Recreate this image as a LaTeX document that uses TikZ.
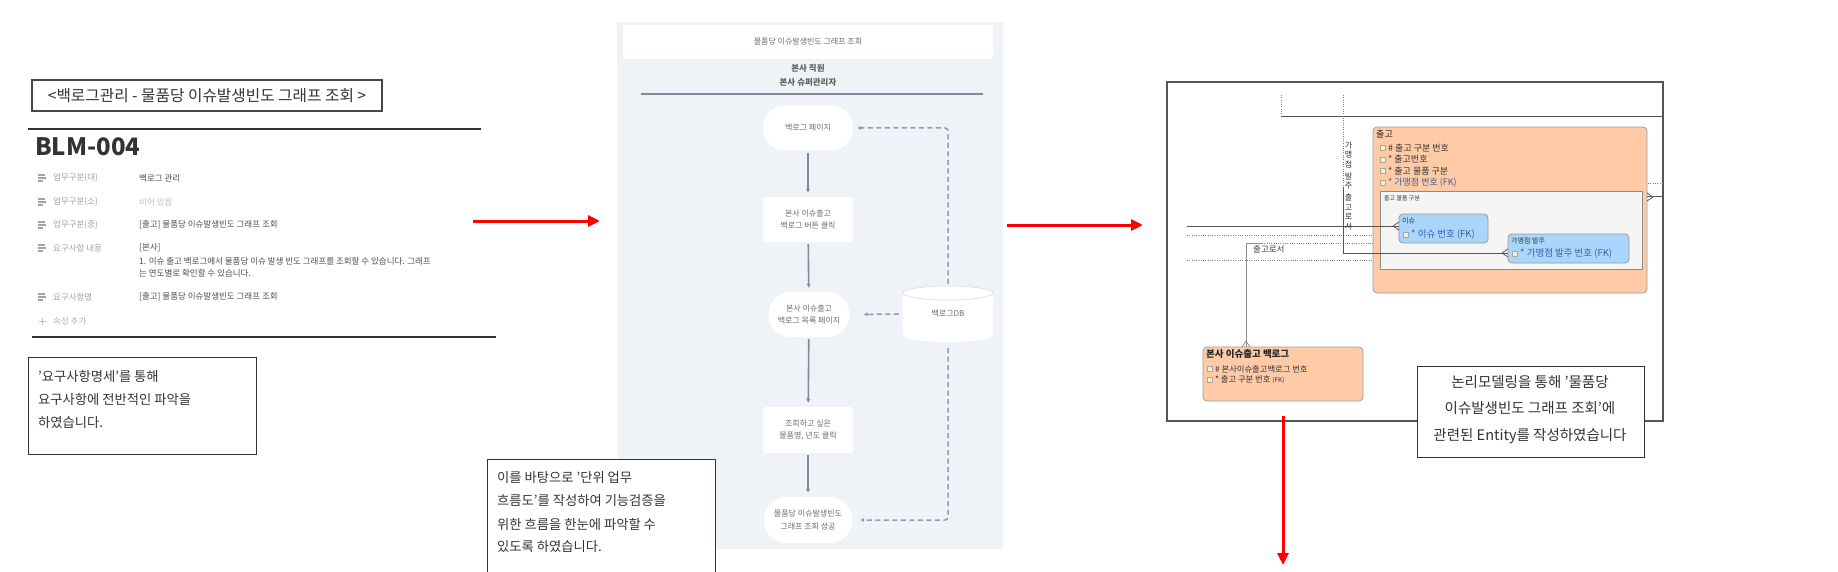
\documentclass[tikz,border=0pt]{standalone}
\usepackage{fontspec}
\setmainfont{Noto Sans CJK KR}
\usetikzlibrary{arrows.meta}
\newcommand\setfs[2]{\fontsize{#1pt}{#2pt}\selectfont}
\definecolor{flbg}{HTML}{EFF2F6}
\definecolor{fltext}{HTML}{6E6E6E}
\definecolor{flline}{HTML}{7D8C9C}
\definecolor{entor}{HTML}{FFCBA6}
\definecolor{entbl}{HTML}{A9D6FA}
\definecolor{fkblue}{HTML}{3C5DA8}
\definecolor{proplab}{HTML}{A3A3A3}
\definecolor{propval}{HTML}{4F4F4F}
\definecolor{darktx}{HTML}{333333}
\definecolor{erdline}{HTML}{555555}
\definecolor{attrsq}{HTML}{F2F2CC}
\tikzset{
  lbl/.style={anchor=west, inner sep=0pt},
  flowtxt/.style={font=\setfs{8}{12.5}, text=fltext, align=center, inner sep=0pt},
  stadium/.style={flowtxt, fill=white, rounded corners=22pt, minimum width=90pt, minimum height=45pt},
  flowrect/.style={flowtxt, fill=white, rounded corners=2pt, minimum width=90pt, minimum height=45pt},
  flowarrow/.style={draw=flline, line width=1.6pt, -{Latex[length=4pt,width=4.5pt]}, shorten <=2pt, shorten >=4pt},
  dasharrow/.style={draw=flline!85, line width=1.5pt, dash pattern=on 5pt off 3.5pt, -{Latex[length=4pt,width=4.5pt]}, rounded corners=3pt},
  redarrow/.style={draw=red, line width=3pt, -{Triangle[length=12pt,width=11pt]}},
  textbox/.style={draw=darktx, line width=1pt, fill=white},
  boxtxt/.style={lbl, font=\setfs{13.3}{16}, text=darktx},
  entity/.style={fill=entor, draw=black!38, line width=0.8pt, rounded corners=4pt},
  subent/.style={fill=entbl, draw=black!40, line width=0.8pt, rounded corners=4pt},
  attr/.style={lbl, font=\setfs{9}{10}, text=darktx},
  erdsolid/.style={draw=erdline, line width=1pt},
  erddot/.style={draw=black!50, line width=1pt, dash pattern=on 1pt off 1.3pt},
  proplabel/.style={lbl, font=\setfs{8.5}{10}, text=proplab},
  propvalue/.style={lbl, font=\setfs{8.5}{10}, text=propval},
}
\newcommand\propicon[1]{%
  \draw[proplab, line width=1.1pt] (38,#1-3) -- (45,#1-3) (38,#1) -- (46,#1) (38,#1+3) -- (43,#1+3);}
\newcommand\attrsquare[2]{%
  \draw[draw=black!35, fill=attrsq, line width=0.5pt] (#1,#2-2.5) rectangle (#1+5,#2+2.5);}
\begin{document}
\begin{tikzpicture}[x=1pt,y=-1pt]
\useasboundingbox (0,0) rectangle (1838,572);
\fill[white] (0,0) rectangle (1838,572);

% ---------------- left panel ----------------
\node[draw=darktx!90, line width=1.2pt, minimum width=350pt, minimum height=31pt, inner sep=0pt,
      font=\setfs{15.7}{17}, text=darktx] (title) at (207,95.5) {<백로그관리 - 물품당 이슈발생빈도 그래프 조회 >};
\draw[darktx, line width=2.5pt] (28,129) -- (481,129);
\node[anchor=base west, inner sep=0pt, font=\setfs{24}{28}\bfseries, text=darktx] (blm) at (35,156) {BLM-004};

\propicon{178}
\node[proplabel] (l1) at (53,178) {업무구분(대)};
\node[propvalue] (v1) at (139,178) {백로그 관리};
\propicon{202}
\node[proplabel] (l2) at (53,202) {업무구분(소)};
\node[lbl, font=\setfs{8.5}{10}, text=black!25] (v2) at (139,202) {비어 있음};
\propicon{225}
\node[proplabel] (l3) at (53,225) {업무구분(중)};
\node[propvalue] (v3) at (139,225) {[출고] 물품당 이슈발생빈도 그래프 조회};
\propicon{248}
\node[proplabel] (l4) at (53,248) {요구사항 내용};
\node[propvalue] (v4a) at (139,248) {[본사]};
\node[propvalue] (v4b) at (139,261) {1. 이슈 출고 백로그에서 물품당 이슈 발생 빈도 그래프를 조회할 수 있습니다. 그래프};
\node[propvalue] (v4c) at (139,273) {는 연도별로 확인할 수 있습니다.};
\propicon{297}
\node[proplabel] (l5) at (53,297) {요구사항명};
\node[propvalue] (v5) at (139,297) {[출고] 물품당 이슈발생빈도 그래프 조회};
\draw[black!25, line width=1pt] (39,321) -- (46,321) (42.5,317.5) -- (42.5,324.5);
\node[lbl, font=\setfs{8.5}{10}, text=black!30] (l6) at (53,321) {속성 추가};
\draw[darktx, line width=2.5pt] (32,337) -- (496,337);

\draw[textbox] (28,357) rectangle (256,454);
\node[boxtxt] (t1a) at (38,376) {'요구사항명세'를 통해};
\node[boxtxt] (t1b) at (38,399.5) {요구사항에 전반적인 파악을};
\node[boxtxt] (t1c) at (38,423) {하였습니다.};

\coordinate (ra1s) at (473,221);
\coordinate (ra1e) at (600,221);
\draw[redarrow] (ra1s) -- (ra1e);

% ---------------- flowchart ----------------
\fill[flbg] (617,22) rectangle (1003,549);
\node[fill=white, rounded corners=2pt, minimum width=370pt, minimum height=34pt, inner sep=0pt,
      font=\setfs{8}{10}, text=fltext] (ftitle) at (808,42) {물품당 이슈발생빈도 그래프 조회};
\node[font=\setfs{8.5}{14}\bfseries, text=black!62, align=center, inner sep=0pt] (actor) at (808,75) {본사 직원\\본사 슈퍼관리자};
\draw[flline, line width=1.8pt] (641,94) -- (983,94);

\node[stadium] (n1) at (808,128) {백로그 페이지};
\node[flowrect] (n2) at (808,219.5) {본사 이슈출고\\백로그 버튼 클릭};
\node[stadium, minimum width=81pt] (n3) at (809,314.5) {본사 이슈출고\\백로그 목록 페이지};
\node[flowrect, minimum height=46pt] (n4) at (808,430) {조회하고 싶은\\물품명, 년도 클릭};
\node[stadium, minimum width=88pt, minimum height=46pt] (n5) at (808,520) {물품당 이슈발생빈도\\그래프 조회 성공};

% database cylinder
\fill[white] (903,293) -- (903,335) arc[start angle=180, end angle=0, x radius=45, y radius=7]
   -- (993,293) arc[start angle=0, end angle=-180, x radius=45, y radius=7] -- cycle;
\draw[black!12, line width=0.8pt] (948,293) ellipse[x radius=45, y radius=7];
\node[flowtxt, minimum width=90pt, minimum height=56pt] (db) at (948,314) {백로그DB};

\draw[flowarrow] (n1) -- (n2);
\draw[flowarrow] (n2) -- (n3);
\draw[flowarrow] (n3) -- (n4);
\draw[flowarrow] (n4) -- (n5);
\draw[dasharrow, shorten <=2pt, shorten >=4pt] (db.north) |- (n1.east);
\draw[dasharrow, shorten <=4pt, shorten >=14pt] (db.west) -- (n3.east);
\draw[dasharrow, shorten <=6pt, shorten >=8pt] (db.south) |- (n5.east);

% middle text box (runs off the bottom)
\draw[textbox] (487,580) -- (487,459) -- (715,459) -- (715,580);
\node[boxtxt] (t2a) at (497,478) {이를 바탕으로 '단위 업무};
\node[boxtxt] (t2b) at (497,501) {흐름도'를 작성하여 기능검증을};
\node[boxtxt] (t2c) at (497,524) {위한 흐름을 한눈에 파악할 수};
\node[boxtxt] (t2d) at (497,547) {있도록 하였습니다.};

\coordinate (ra2s) at (1007,225);
\coordinate (ra2e) at (1143,225);
\draw[redarrow] (ra2s) -- (ra2e);

% ---------------- ERD ----------------
\draw[erdline, line width=1.5pt] (1167,82) rectangle (1663,421);

% relationship lines
\draw[erddot] (1281,95) -- (1281,117);
\draw[erdsolid] (1281,117) -- (1662,117);
\draw[erddot] (1343,95) -- (1343,187);
\draw[erddot] (1187,235) -- (1373,235);
\draw[erddot] (1262,243) -- (1400,243);
\draw[erddot] (1187,260) -- (1373,260);
\draw[erddot] (1648,184) -- (1662,184);

% entity 출고
\draw[entity] (1373,127) rectangle (1647,293);
\node[lbl, font=\setfs{9}{10}, text=black!85] (e1t) at (1376,134) {출고};
\attrsquare{1380}{148}\node[attr] (e1a) at (1388,148) {\# 출고 구분 번호};
\attrsquare{1380}{159.5}\node[attr] (e1b) at (1388,159.5) {* 출고번호};
\attrsquare{1380}{171}\node[attr] (e1c) at (1388,171) {* 출고 물품 구분};
\attrsquare{1380}{183}\node[attr, text=fkblue] (e1d) at (1388,183) {* 가맹점 번호 (FK)};
\draw[fill=black!4, draw=black!45, line width=0.8pt] (1380,191) rectangle (1642,269);
\node[lbl, font=\setfs{6}{7}, text=black!80] (sub) at (1384,198) {출고 물품 구분};

% sub entity 이슈
\draw[subent] (1399,214) rectangle (1488,243);
\node[lbl, font=\setfs{7}{8}, text=black!80] (e2t) at (1402,221) {이슈};
\attrsquare{1403}{235}\node[attr, font=\setfs{9.5}{10}, text=fkblue] (e2a) at (1411,235) {* 이슈 번호 (FK)};

% sub entity 가맹점 발주
\draw[subent] (1508,234) rectangle (1629,263);
\node[lbl, font=\setfs{7}{8}, text=black!80] (e3t) at (1511,241) {가맹점 발주};
\attrsquare{1512}{254}\node[attr, font=\setfs{9.5}{10}, text=fkblue] (e3a) at (1520,254) {* 가맹점 발주 번호 (FK)};

% entity 본사 이슈출고 백로그
\draw[entity] (1203,347) rectangle (1363,401);
\node[lbl, font=\setfs{9.5}{10}\bfseries, text=black!85] (e4t) at (1206,354) {본사 이슈출고 백로그};
\attrsquare{1207}{369}\node[attr, font=\setfs{8.3}{10}] (e4a) at (1215,369) {\# 본사이슈출고백로그 번호};
\attrsquare{1207}{380}\node[attr, font=\setfs{8.3}{10}] (e4b) at (1215,380) {* 출고 구분 번호 \setfs{6.5}{8}(FK)};

% solid relationships with crow's feet
\draw[erdsolid] (1187,226) -- (1399,226);
\draw[erdsolid, line width=0.8pt] (1393,226) -- (1399,222) (1393,226) -- (1399,230);
\draw[erdsolid] (1343,187) -- (1343,253) -- (1508,253);
\draw[erdsolid, line width=0.8pt] (1502,253) -- (1508,249) (1502,253) -- (1508,257);
\draw[erdsolid, black!45] (1246,347) -- (1246,243) -- (1262,243);
\draw[erdsolid, black!45, line width=0.8pt] (1246,341) -- (1242,347) (1246,341) -- (1250,347);
\draw[erdsolid] (1647,197) -- (1662,197);
\draw[erdsolid, line width=0.8pt] (1653,197) -- (1647,193) (1653,197) -- (1647,201);

\node[font=\setfs{8}{9.5}, align=center, inner sep=0pt, text=black!80] (vt) at (1348.5,186)
  {가\\맹\\점\\[2.5pt]발\\주\\[2.5pt]출\\고\\로\\서};
\node[lbl, font=\setfs{8.5}{10}, text=black!75] (rel) at (1253,249) {출고로서};

% right text box
\node[textbox, minimum width=227pt, minimum height=91pt, inner sep=0pt] (t3) at (1530.5,411.5) {};
\node[font=\setfs{14.5}{26.5}, text=darktx, align=center, inner sep=0pt] (t3txt) at (1530,409.5)
  {논리모델링을 통해 '물품당\\이슈발생빈도 그래프 조회'에\\관련된 Entity를 작성하였습니다};

\coordinate (ra3s) at (1283,416);
\coordinate (ra3e) at (1283,565);
\draw[redarrow] (ra3s) -- (ra3e);
\end{tikzpicture}
\end{document}
